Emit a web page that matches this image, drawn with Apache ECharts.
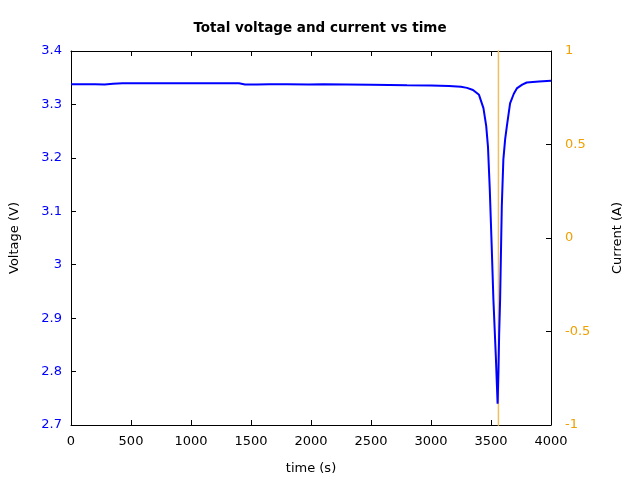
<!DOCTYPE html>
<html><head><meta charset="utf-8">
<script src="https://cdn.jsdelivr.net/npm/echarts@6/dist/echarts.min.js"></script>
<style>html,body{margin:0;padding:0;background:#fff}#c{width:640px;height:480px}</style>
</head><body><div id="c"></div>
<script>
const titleText = 'Total voltage and current vs time';
const timeS = [0,100,200,280,350,430,600,1000,1400,1450,1550,1650,1800,1980,2100,2500,2800,3000,3150,3250,3300,3350,3400,3437,3460,3475,3490,3505,3520,3540,3555,3562,3568,3576,3590,3603,3618,3632,3659,3690,3715,3760,3798,3900,4000];
const voltageV = [3.338,3.338,3.3378,3.3372,3.3385,3.3395,3.3395,3.3395,3.3395,3.3375,3.3372,3.338,3.3378,3.3373,3.3376,3.337,3.336,3.3355,3.3345,3.333,3.331,3.327,3.318,3.293,3.26,3.22,3.14,3.04,2.935,2.83,2.74,2.80,2.87,2.935,3.11,3.197,3.235,3.259,3.302,3.32,3.330,3.337,3.341,3.343,3.3445];
const currentT = [3562,3562];
const currentA = [-3,3];
const voltTicks = [2.7,2.8,2.9,3.0,3.1,3.2,3.3,3.4];
const curTicks = [-1,-0.5,0,0.5,1];

const chart = echarts.init(document.getElementById('c'), null, {renderer:'canvas'});
const font = 'DejaVu Sans';
chart.setOption({
  animation:false,
  backgroundColor:'#fff',
  title:{text:titleText,left:'center',top:16,textStyle:{fontFamily:font,fontSize:13.5,fontWeight:'bold',color:'#000'}},
  grid:{left:70,right:89,top:51,bottom:54,containLabel:false},
  xAxis:[{
    type:'value',min:0,max:4000,interval:500,position:'bottom',
    name:'time (s)',nameLocation:'middle',nameGap:37,
    nameTextStyle:{fontFamily:font,fontSize:13,color:'#000'},
    axisLine:{onZero:false,lineStyle:{color:'#000',width:1}},
    axisTick:{inside:true,length:5,lineStyle:{color:'#000'}},
    axisLabel:{fontFamily:font,fontSize:13,color:'#000',margin:10,formatter:v=>String(v)},
    splitLine:{show:false}
  },{
    type:'value',min:0,max:4000,interval:500,position:'top',
    axisLine:{onZero:false,lineStyle:{color:'#000',width:1}},
    axisTick:{inside:true,length:5,lineStyle:{color:'#000'}},
    axisLabel:{show:false},splitLine:{show:false}
  }],
  yAxis:[{
    type:'value',min:2.7,max:3.4,interval:0.1,position:'left',
    name:'Voltage (V)',nameLocation:'middle',nameGap:50,
    nameTextStyle:{fontFamily:font,fontSize:13,color:'#000'},
    axisLine:{show:true,onZero:false,lineStyle:{color:'#000',width:1}},
    axisTick:{show:true,inside:true,length:5,lineStyle:{color:'#000'}},
    axisLabel:{fontFamily:font,fontSize:13,color:'#0000ff',margin:9,
      formatter:v=>{const r=Math.round(v*10)/10;return r===3?'3':String(r);}},
    splitLine:{show:false}
  },{
    type:'value',min:-1,max:1,interval:0.5,position:'right',
    name:'Current (A)',nameLocation:'middle',nameGap:60,
    nameTextStyle:{fontFamily:font,fontSize:13,color:'#000'},
    axisLine:{show:true,onZero:false,lineStyle:{color:'#000',width:1}},
    axisTick:{show:true,inside:true,length:5,lineStyle:{color:'#000'}},
    axisLabel:{fontFamily:font,fontSize:13,color:'#f0a000',margin:14},
    splitLine:{show:false}
  }],
  series:[{
    type:'line',xAxisIndex:0,yAxisIndex:1,clip:true,showSymbol:false,
    data:currentT.map((t,i)=>[t,currentA[i]]),
    lineStyle:{color:'#f0c060',width:1.5}
  },{
    type:'line',xAxisIndex:0,yAxisIndex:0,clip:true,showSymbol:false,
    data:timeS.map((t,i)=>[t,voltageV[i]]),
    lineStyle:{color:'#0000ff',width:2}
  }]
});
</script></body></html>
